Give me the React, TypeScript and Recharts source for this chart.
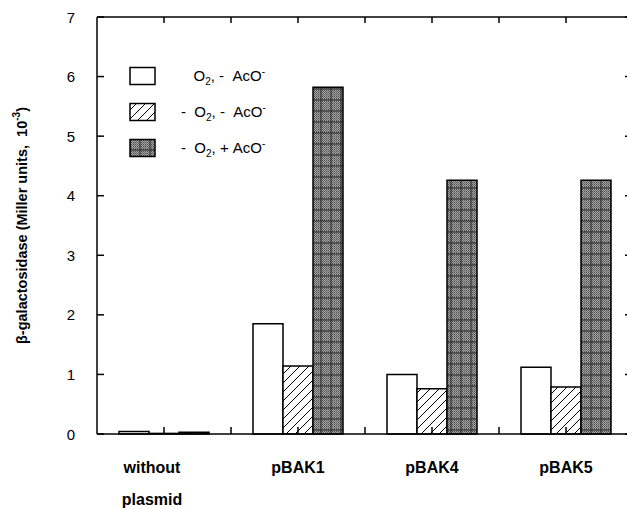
import React from "react";
import { BarChart, Bar, XAxis, YAxis, ReferenceLine } from "recharts";

// values (Miller units x 10^-3)
const categories = ["without plasmid", "pBAK1", "pBAK4", "pBAK5"];
const aerobicNoAcetate = [0.04, 1.85, 1.0, 1.12];
const anaerobicNoAcetate = [0.01, 1.14, 0.76, 0.79];
const anaerobicAcetate = [0.03, 5.82, 4.26, 4.26];
const yTicks = [0, 1, 2, 3, 4, 5, 6, 7];
const yMax = 7;

const data = categories.map((name, i) => ({
  name,
  a: aerobicNoAcetate[i],
  b: anaerobicNoAcetate[i],
  c: anaerobicAcetate[i],
}));

const FONT = "'Liberation Sans', Arial, Helvetica, sans-serif";
const INK = "#000";

// layout of the plot box
const CHART_W = 660;
const CHART_H = 509;
const PLOT_LEFT = 97;
const PLOT_TOP = 17;
const PLOT_W = 536;
const PLOT_H = 417;
const Y_AXIS_W = 40;
const X_AXIS_H = 60;
const HALF_BAND = PLOT_W / categories.length / 2;
const TICK_GAP = 8; // default tickSize 6 + tickMargin 2

const CatTick = (props: any) => {
  const { x, y, payload } = props;
  const axisY = y - TICK_GAP;
  const lines: string[] = payload.value === "without plasmid" ? ["without", "plasmid"] : [payload.value];
  const dx = lines.length > 1 ? -12 : 0;
  return (
    <g>
      {/* inward frame ticks at group centre and group border, bottom and top */}
      {[x, x + HALF_BAND].map((tx) => (
        <g key={tx} stroke={INK} strokeWidth={1.5}>
          <line x1={tx} x2={tx} y1={axisY} y2={axisY - 7} />
          <line x1={tx} x2={tx} y1={axisY - PLOT_H} y2={axisY - PLOT_H + 6} />
        </g>
      ))}
      {lines.map((l, i) => (
        <text
          key={l}
          x={x + dx}
          y={y + 31 + i * 32}
          textAnchor="middle"
          fontFamily={FONT}
          fontWeight="bold"
          fontSize={16}
          fill={INK}
        >
          {l}
        </text>
      ))}
    </g>
  );
};

const ValTick = (props: any) => {
  const { x, y, payload } = props;
  const axisX = x + 22;
  return (
    <g>
      <g stroke={INK} strokeWidth={1.5}>
        <line x1={axisX} x2={axisX + 7} y1={y} y2={y} />
        <line x1={axisX + PLOT_W - 8} x2={axisX + PLOT_W} y1={y} y2={y} />
      </g>
      <text x={x} y={y} textAnchor="end" dominantBaseline="central" fontFamily={FONT} fontSize={15} fill={INK}>
        {payload.value}
      </text>
    </g>
  );
};

const YLabel = (props: any) => {
  const { viewBox } = props;
  const cx = viewBox.x - 35;
  const cy = viewBox.y + viewBox.height / 2;
  return (
    <text
      x={cx}
      y={cy}
      transform={`rotate(-90, ${cx}, ${cy})`}
      textAnchor="middle"
      dominantBaseline="central"
      fontFamily={FONT}
      fontWeight="bold"
      fontSize={14.5}
      fill={INK}
    >
      β-galactosidase (Miller units,{"\u00a0\u00a0"}10
      <tspan dy={-6} fontSize={10}>-3</tspan>
      <tspan dy={6}>)</tspan>
    </text>
  );
};

const legendRows = [
  { fill: "#fff", pre: "\u00a0\u00a0\u00a0", sign: "-\u00a0\u00a0" },
  { fill: "url(#hatch)", pre: "-\u00a0\u00a0", sign: "-\u00a0\u00a0" },
  { fill: "url(#plaid)", pre: "-\u00a0\u00a0", sign: "+\u00a0" },
];

const frameLine = { stroke: INK, strokeWidth: 1.5 };

export default function App() {
  return (
    <div
      style={{
        position: "fixed",
        left: 0,
        top: 0,
        width: 627,
        height: 509,
        overflow: "hidden",
        background: "#fff",
      }}
    >
      <BarChart
        width={CHART_W}
        height={CHART_H}
        data={data}
        margin={{
          top: PLOT_TOP,
          right: CHART_W - PLOT_LEFT - PLOT_W,
          left: PLOT_LEFT - Y_AXIS_W,
          bottom: CHART_H - PLOT_TOP - PLOT_H - X_AXIS_H,
        }}
        barCategoryGap={22}
        barGap={0}
      >
        <defs>
          <pattern id="hatch" patternUnits="userSpaceOnUse" width={9} height={9}>
            <rect width={9} height={9} fill="#fff" />
            <path d="M0,9 L9,0 M-2,2 L2,-2 M7,11 L11,7" stroke={INK} strokeWidth={1} />
          </pattern>
          <pattern id="dither" patternUnits="userSpaceOnUse" width={2} height={2}>
            <rect width={2} height={2} fill="#a6a6a6" />
            <rect width={1} height={1} fill="#4a4a4a" />
            <rect x={1} y={1} width={1} height={1} fill="#6a6a6a" />
          </pattern>
          <pattern id="plaid" patternUnits="userSpaceOnUse" width={10} height={11}>
            <rect width={10} height={11} fill="url(#dither)" />
            <rect x={0} y={0} width={2} height={11} fill="#333" opacity={0.6} />
            <rect x={0} y={0} width={10} height={2} fill="#333" opacity={0.6} />
          </pattern>
        </defs>

        <XAxis
          xAxisId="cat"
          dataKey="name"
          height={X_AXIS_H}
          interval={0}
          tickLine={false}
          axisLine={frameLine}
          tick={<CatTick />}
        />
        <YAxis
          yAxisId="val"
          domain={[0, yMax]}
          ticks={yTicks}
          width={Y_AXIS_W}
          tickLine={false}
          tickSize={6}
          tickMargin={16}
          axisLine={frameLine}
          tick={<ValTick />}
          label={<YLabel />}
        />
        <ReferenceLine xAxisId="cat" yAxisId="val" y={yMax} stroke={INK} strokeWidth={1.5} />

        <Bar xAxisId="cat" yAxisId="val" dataKey="a" fill="#fff" stroke={INK} strokeWidth={1.5} isAnimationActive={false} />
        <Bar xAxisId="cat" yAxisId="val" dataKey="b" fill="url(#hatch)" stroke={INK} strokeWidth={1.5} isAnimationActive={false} />
        <Bar xAxisId="cat" yAxisId="val" dataKey="c" fill="url(#plaid)" stroke={INK} strokeWidth={1.5} isAnimationActive={false} />
      </BarChart>

      <div style={{ position: "absolute", left: 129, top: 58, fontFamily: FONT, fontSize: 15, color: INK }}>
        {legendRows.map((r, i) => (
          <div key={i} style={{ display: "flex", alignItems: "center", height: 36 }}>
            <svg width={28} height={20} style={{ display: "block" }}>
              <rect x={1} y={1.5} width={25} height={17} fill={r.fill} stroke={INK} strokeWidth={1.5} />
            </svg>
            <div style={{ marginLeft: 24, whiteSpace: "pre", lineHeight: "20px" }}>
              {r.pre}O<sub style={{ fontSize: 10, lineHeight: 0 }}>2</sub>, {r.sign}AcO
              <sup style={{ fontSize: 10, lineHeight: 0 }}>-</sup>
            </div>
          </div>
        ))}
      </div>
    </div>
  );
}
